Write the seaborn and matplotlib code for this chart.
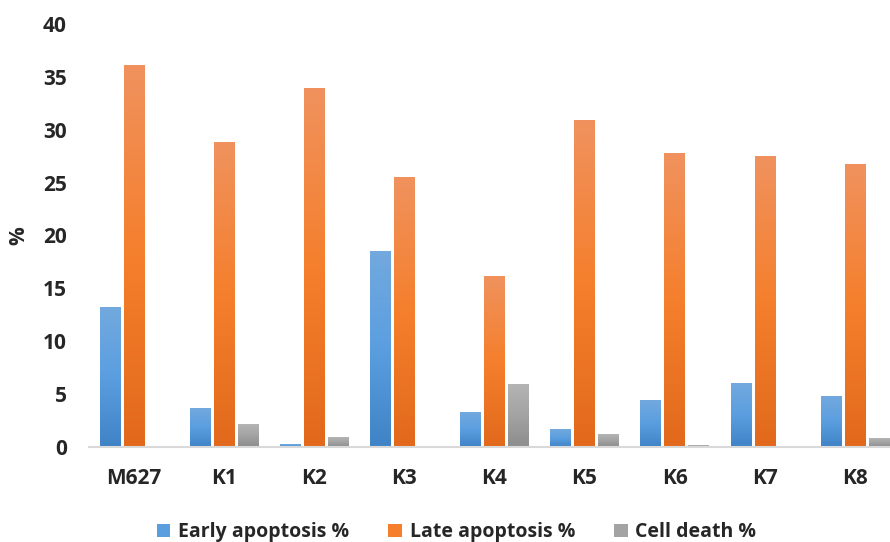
import numpy as np
import pandas as pd
import matplotlib
matplotlib.use("Agg")
import matplotlib.pyplot as plt
from matplotlib.colors import LinearSegmentedColormap
from matplotlib.patches import Patch
import seaborn as sns

sns.set_theme(style="white")
plt.rcParams['font.family'] = ['Open Sans', 'DejaVu Sans']

samples = ["M627", "K1", "K2", "K3", "K4", "K5", "K6", "K7", "K8"]
early = [13.2, 3.6, 0.2, 18.5, 3.3, 1.7, 4.4, 6.0, 4.8]
late = [36.1, 28.8, 33.9, 25.5, 16.1, 30.9, 27.8, 27.5, 26.7]
death = [0.0, 2.1, 0.9, 0.0, 5.9, 1.2, 0.1, 0.05, 0.8]
series = ["Early apoptosis %", "Late apoptosis %", "Cell death %"]

df = pd.DataFrame({
    "sample": samples * 3,
    "value": early + late + death,
    "series": np.repeat(series, len(samples)),
})

# bottom / middle / top colours of the excel-like gradients
grads = [
    ["#3f83c6", "#5b9ee0", "#72a9de"],
    ["#e2691c", "#f57f2c", "#f0925e"],
    ["#8c8c8c", "#a3a3a3", "#b4b4b4"],
]
mids = [g[1] for g in grads]

fig = plt.figure(figsize=(8.9, 5.42), dpi=100)
ax = fig.add_axes([0.1, 0.1753, 0.9, 0.7804])

sns.barplot(data=df, x="sample", y="value", hue="series", palette=mids,
            width=0.8, gap=0.15, legend=False, ax=ax)

# paint each bar with a vertical gradient
grad = np.linspace(0, 1, 256).reshape(-1, 1)
for cont, g in zip(ax.containers, grads):
    cmap = LinearSegmentedColormap.from_list("g", g)
    for bar in cont:
        h = bar.get_height()
        x0 = bar.get_x()
        w = bar.get_width()
        bar.set_facecolor("none")
        bar.set_edgecolor("none")
        if h <= 0:
            continue
        ax.imshow(grad, cmap=cmap, extent=[x0, x0 + w, 0, h], origin="lower",
                  aspect="auto", zorder=2)

ax.set_xlim(-0.5, 8.39)
ax.set_ylim(0, 40)
ax.set_yticks(np.arange(0, 41, 5))
ax.set_xlabel("")
ax.set_ylabel("%", fontsize=15, fontweight="bold")
ax.yaxis.set_label_coords(-0.075, 0.5)
ax.tick_params(axis="y", length=0, pad=16, labelsize=15)
ax.tick_params(axis="x", length=0, pad=15, labelsize=15)
for lab in ax.get_xticklabels() + ax.get_yticklabels():
    lab.set_fontweight("bold")
for s in ["top", "right", "left"]:
    ax.spines[s].set_visible(False)
ax.spines["bottom"].set_color("#d9d9d9")
ax.spines["bottom"].set_linewidth(1.5)
ax.grid(False)

handles = [Patch(facecolor=c, edgecolor="none") for c in mids]
fig.legend(handles, series, loc="center", bbox_to_anchor=(0.513, 0.018),
           ncol=3, frameon=False, prop={"size": 14, "weight": "bold"},
           handlelength=0.7, handleheight=0.7, handletextpad=0.4,
           columnspacing=2.0)

fig.savefig("out.png", dpi=100)
